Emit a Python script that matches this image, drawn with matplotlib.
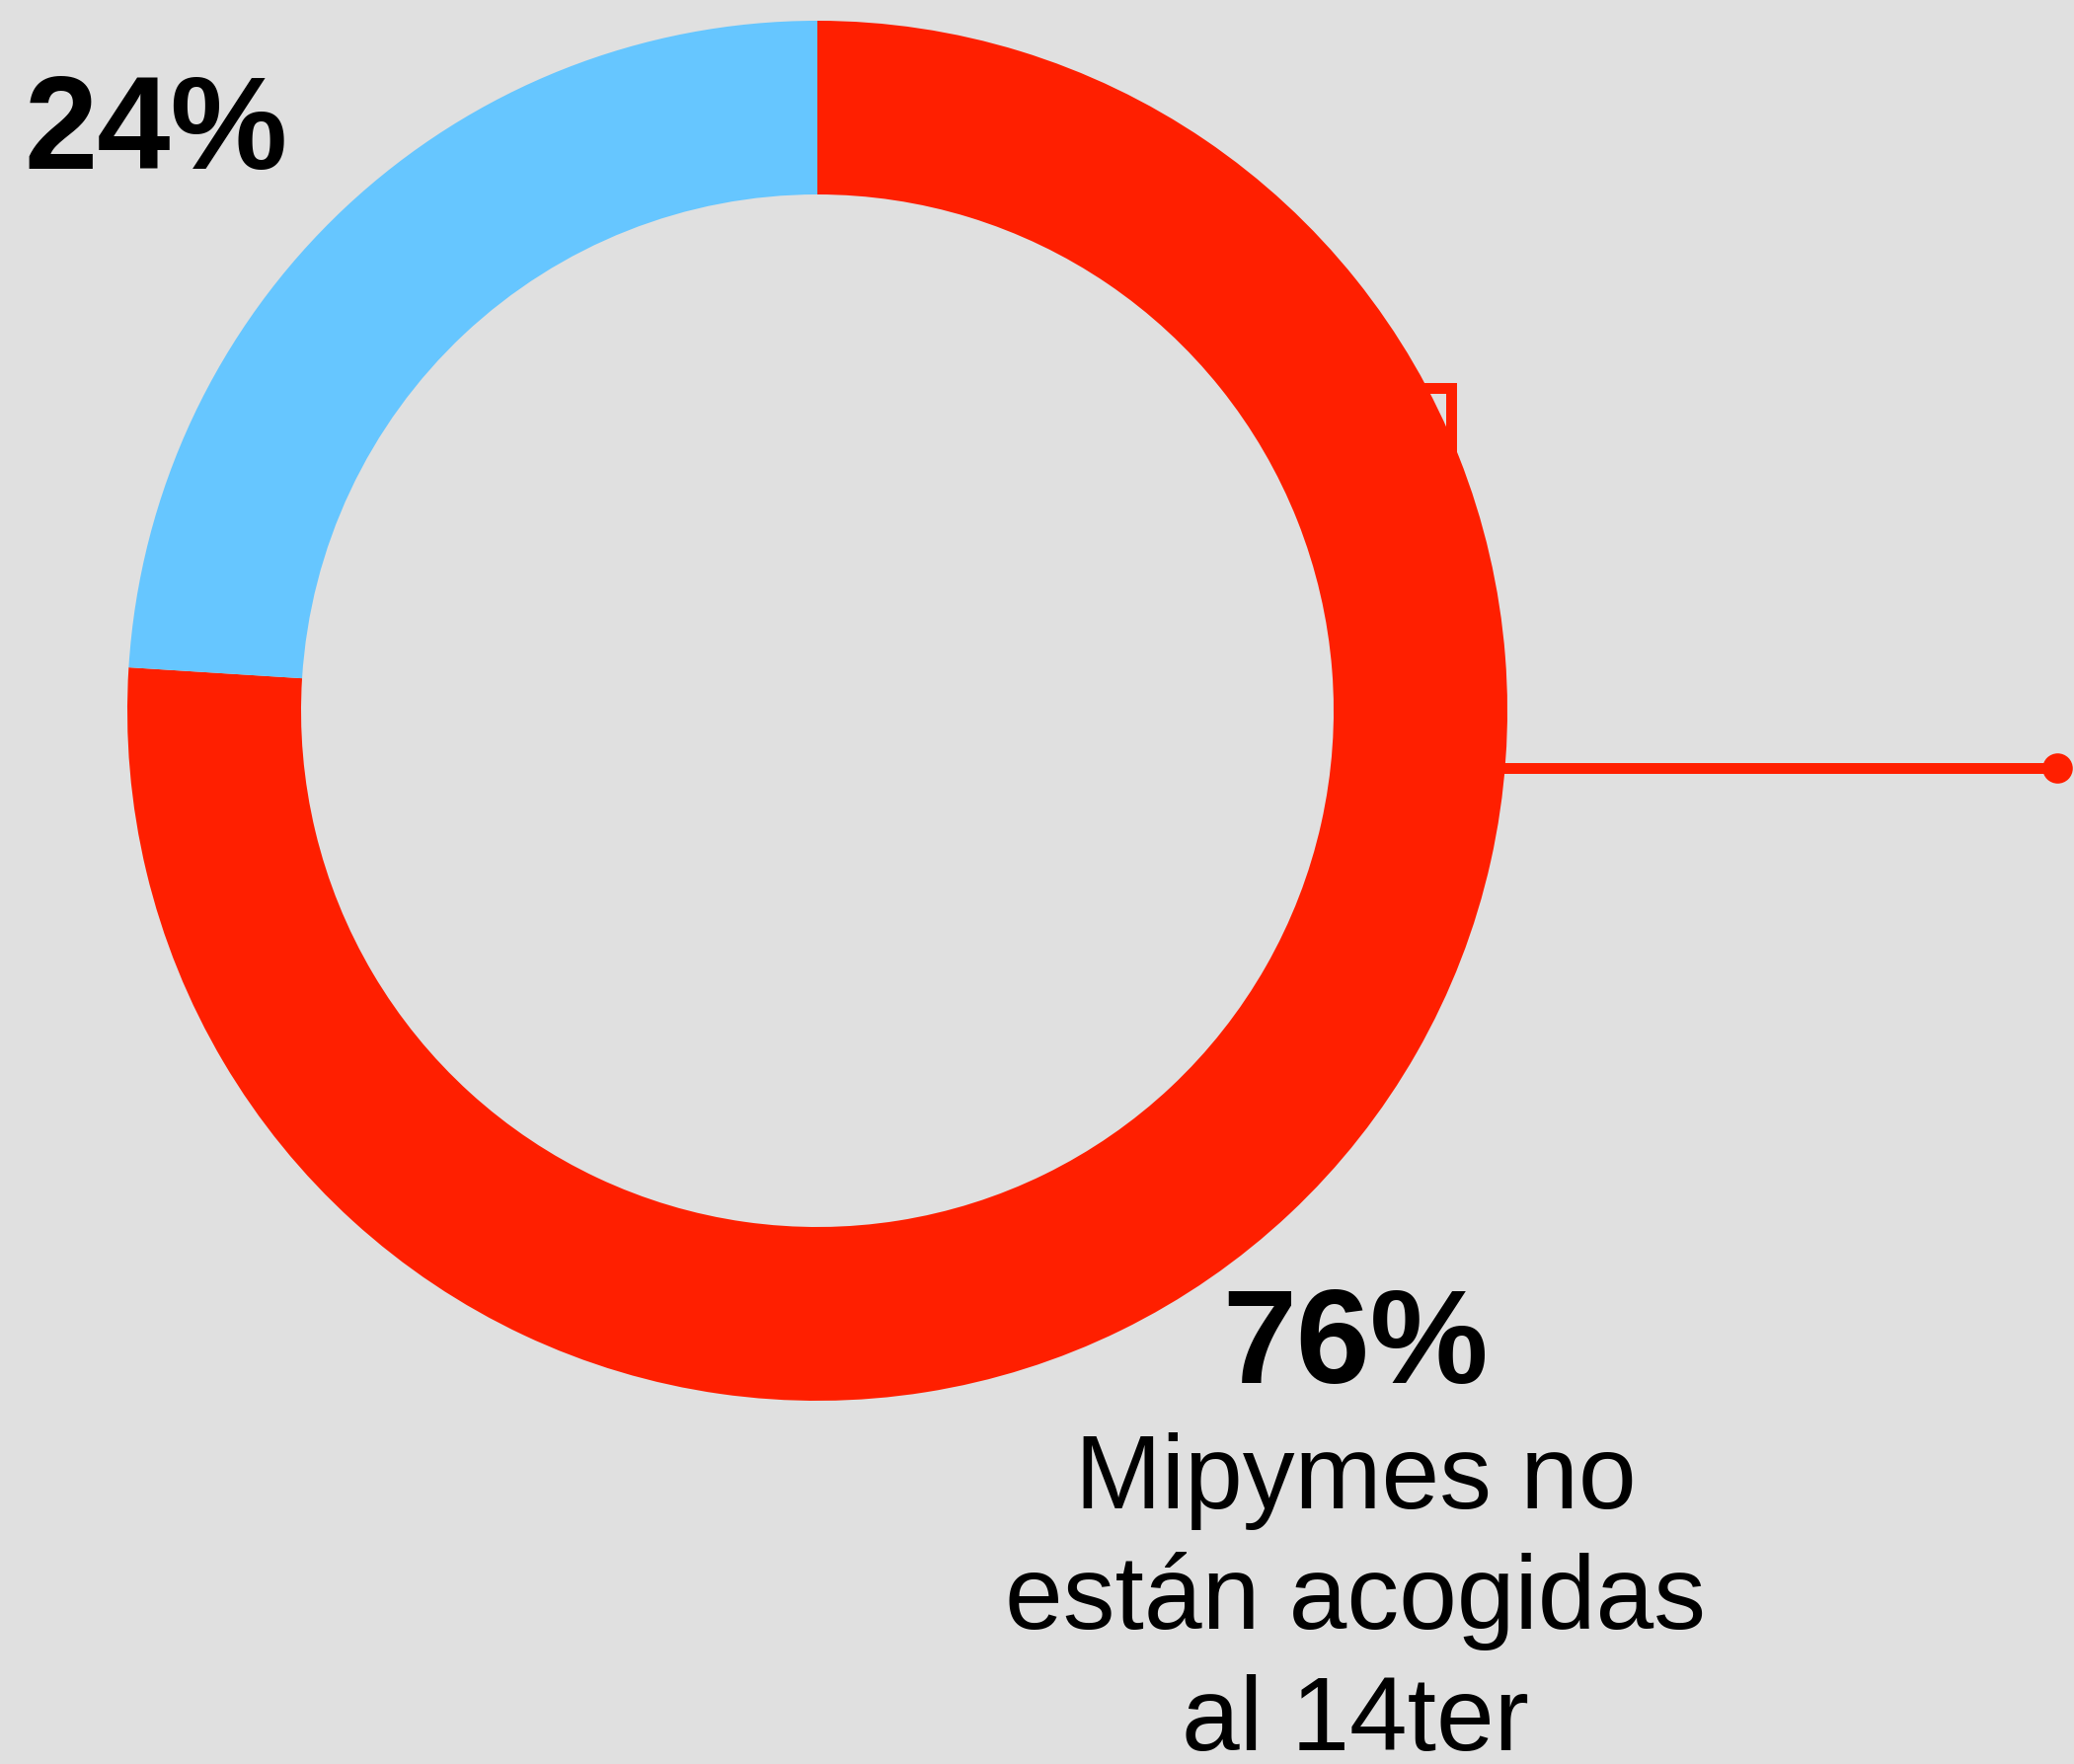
import matplotlib
matplotlib.use("Agg")
import matplotlib.pyplot as plt

# Data
categories = ["Mipymes no están acogidas al 14ter", "Mipymes acogidas al 14ter"]
values = [76, 24]
colors = ["#FF1F00", "#66C6FF"]
pct_labels = ["76%", "24%"]
body_lines = ["Mipymes no", "están acogidas", "al 14ter"]

W, H = 2101, 1787
bg = "#E0E0E0"
fig = plt.figure(figsize=(W / 100, H / 100), dpi=100, facecolor=bg)
ax = fig.add_axes([0, 0, 1, 1])
ax.set_facecolor(bg)

def Y(yp):
    return H - yp

# leader lines (behind donut)
ax.plot([1480, 2084], [Y(777.5), Y(777.5)], color=colors[0], lw=7.9,
        solid_capstyle="butt", zorder=1)
ax.plot([2084], [Y(777.5)], marker="o", color=colors[0], markersize=22,
        markeredgewidth=0, zorder=1)
ax.plot([1400, 1469.5, 1469.5], [Y(392.5), Y(392.5), Y(500)], color=colors[0],
        lw=7.9, solid_joinstyle="miter", solid_capstyle="butt", zorder=1)

wedges, _ = ax.pie(values, colors=colors, startangle=90, counterclock=False,
                   center=(828, Y(720)), radius=699,
                   wedgeprops=dict(width=176, linewidth=0), frame=True)
for w in wedges:
    w.set_zorder(2)
ax.set_xlim(0, W)
ax.set_ylim(0, H)
ax.set_aspect("equal")
ax.axis("off")

fam = ["Liberation Sans", "DejaVu Sans"]
ax.text(24, Y(171), pct_labels[1], fontsize=96, fontweight="bold",
        family=fam, ha="left", va="baseline", zorder=3)

ax.text(1373, Y(1401), pct_labels[0], fontsize=97, fontweight="bold",
        family=fam, ha="center", va="baseline", zorder=3)
for yb, line in zip([1528, 1650, 1773], body_lines):
    ax.text(1373, Y(yb), line, fontsize=76, family=fam,
            ha="center", va="baseline", zorder=3)

fig.savefig("out.png", dpi=100, facecolor=bg)
